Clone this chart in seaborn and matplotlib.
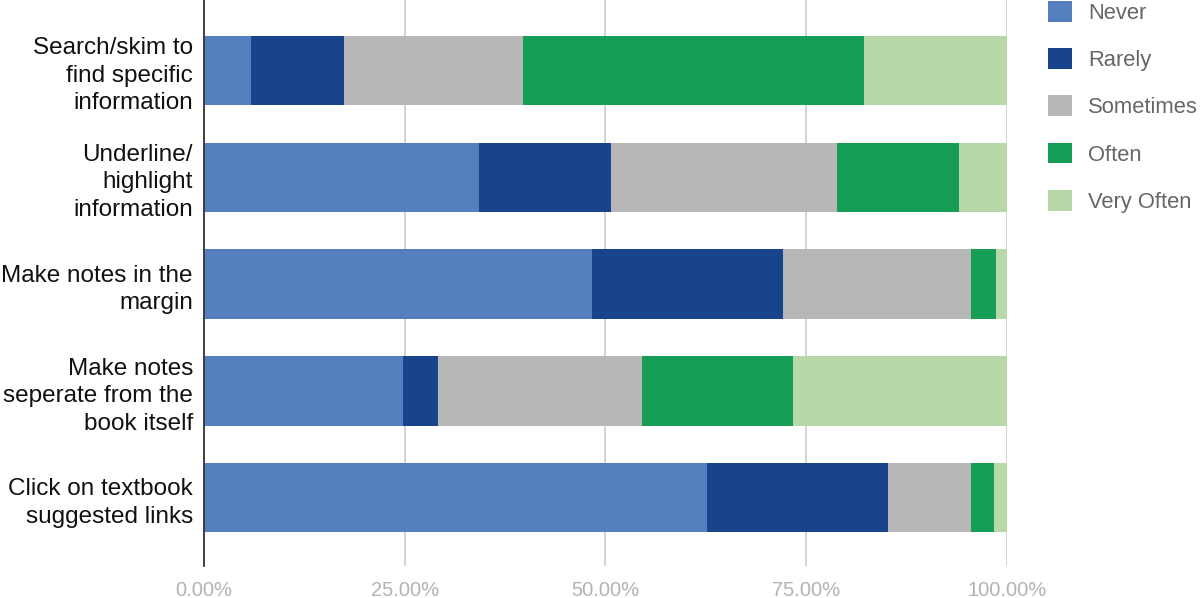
import numpy as np
import pandas as pd
import matplotlib
matplotlib.use("Agg")
import matplotlib.pyplot as plt
from matplotlib.patches import Patch
import seaborn as sns

categories = [
    "Search/skim to\nfind specific\ninformation",
    "Underline/\nhighlight\ninformation",
    "Make notes in the\nmargin",
    "Make notes\nseperate from the\nbook itself",
    "Click on textbook\nsuggested links",
]
series_names = ["Never", "Rarely", "Sometimes", "Often", "Very Often"]
never = [5.8, 34.3, 48.3, 24.8, 62.7]
rarely = [11.7, 16.4, 23.8, 4.4, 22.5]
sometimes = [22.2, 28.2, 23.4, 25.3, 10.4]
often = [42.5, 15.1, 3.1, 18.9, 2.8]
very_often = [17.8, 6.0, 1.4, 26.6, 1.6]
tick_values = [0, 25, 50, 75, 100]
tick_labels = ["0.00%", "25.00%", "50.00%", "75.00%", "100.00%"]
colors = ["#557ebf", "#17448a", "#b7b7b7", "#169e57", "#b7d9a8"]

sns.set_theme(style="white")
plt.rcParams["font.family"] = ["Liberation Sans", "DejaVu Sans"]

fig = plt.figure(figsize=(12, 5.98), dpi=100)
ax = fig.add_axes([0.17, 1 - 566 / 598, 0.839 - 0.17, 566 / 598])

series = [never, rarely, sometimes, often, very_often]
cum = np.cumsum(np.array(series), axis=0)

# draw from longest cumulative to shortest so each segment shows
for i in range(len(series) - 1, -1, -1):
    df = pd.DataFrame({"cat": categories, "val": cum[i]})
    sns.barplot(data=df, x="val", y="cat", orient="h", color=colors[i],
                width=0.65, linewidth=0, saturation=1, ax=ax, zorder=3)

ax.set_xlim(0, 100)
ax.set_ylim(4.64, -0.66)
ax.set_xticks(tick_values)
ax.set_xticklabels(tick_labels, color="#b3b3b3", fontsize=14.5)
ax.tick_params(axis="x", length=0, pad=11)
ax.tick_params(axis="y", length=0, pad=8)
for lab in ax.get_yticklabels():
    lab.set_fontsize(17.5)
    lab.set_color("#111111")
    lab.set_linespacing(1.32)
    lab.set_horizontalalignment("right")
ax.set_xlabel("")
ax.set_ylabel("")
ax.grid(axis="x", color="#cccccc", linewidth=1.2, zorder=0)
ax.grid(axis="y", visible=False)
for s in ["top", "right", "bottom"]:
    ax.spines[s].set_visible(False)
ax.spines["left"].set_color("#333333")
ax.spines["left"].set_linewidth(1.3)
ax.spines["left"].set_zorder(5)

handles = [Patch(facecolor=c, edgecolor="none", label=n) for c, n in zip(colors, series_names)]
leg = fig.legend(handles=handles, loc="upper left", bbox_to_anchor=(1048 / 1200, 1 - 1 / 598),
                 frameon=False, fontsize=15.8, handlelength=1.08, handleheight=1.08,
                 labelspacing=1.11, handletextpad=0.75, borderpad=0.0, borderaxespad=0)
for t in leg.get_texts():
    t.set_color("#666666")

fig.savefig("out.png", dpi=100)
